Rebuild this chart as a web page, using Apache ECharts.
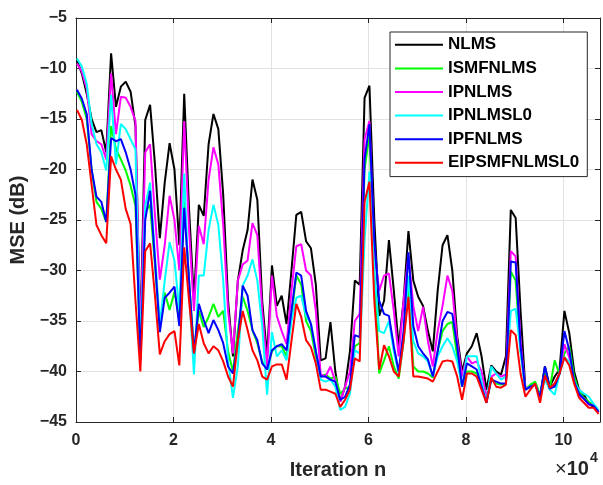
<!DOCTYPE html>
<html><head><meta charset="utf-8">
<script src="https://cdn.jsdelivr.net/npm/echarts@6/dist/echarts.min.js"></script>
<style>html,body{margin:0;padding:0;background:#fff}#c{width:603px;height:485px}</style>
</head><body><div id="c"></div>
<script>
// iteration positions (x 10^4)
const xs = [0.02,0.12,0.22,0.32,0.42,0.52,0.62,0.72,0.82,0.92,
1.02,1.12,1.22,1.32,1.42,1.52,1.62,1.72,1.82,1.92,
2.02,2.12,2.22,2.32,2.42,2.52,2.62,2.72,2.82,2.92,
3.02,3.12,3.22,3.32,3.42,3.52,3.62,3.72,3.82,3.92,
4.02,4.12,4.22,4.32,4.42,4.52,4.62,4.72,4.82,4.92,
5.02,5.12,5.22,5.32,5.42,5.52,5.62,5.72,5.82,5.92,
6.02,6.12,6.22,6.32,6.42,6.52,6.62,6.72,6.82,6.92,
7.02,7.12,7.22,7.32,7.42,7.52,7.62,7.72,7.82,7.92,
8.02,8.12,8.22,8.32,8.42,8.52,8.62,8.72,8.82,8.92,
9.02,9.12,9.22,9.32,9.42,9.52,9.62,9.72,9.82,9.92,
10.02,10.12,10.22,10.32,10.42,10.52,10.62,10.72];

const seriesNames = ['NLMS','ISMFNLMS','IPNLMS','IPNLMSL0','IPFNLMS','EIPSMFNLMSL0'];

const nlms = [-9.2,-10.5,-12.5,-15.0,-16.3,-16.1,-18.3,-8.5,-13.8,-11.8,
-11.3,-12.3,-15.7,-36.5,-15.1,-13.6,-19.5,-26.8,-21.3,-17.4,
-20.0,-27.5,-12.5,-24.0,-33.0,-23.5,-24.6,-17.5,-14.5,-16.0,
-22.5,-33.0,-38.5,-31.0,-28.0,-26.0,-21.0,-23.0,-33.0,-38.5,
-29.5,-33.5,-32.5,-35.3,-30.0,-24.5,-24.2,-27.1,-27.8,-31.4,
-38.9,-38.7,-35.1,-40.0,-43.0,-41.5,-38.0,-31.0,-31.4,-12.9,
-11.7,-25.0,-34.5,-33.0,-27.0,-32.0,-37.5,-33.0,-26.1,-31.0,
-32.6,-33.5,-36.0,-38.0,-32.0,-27.5,-26.5,-30.0,-36.5,-40.0,
-38.2,-37.5,-36.2,-38.5,-41.8,-39.4,-40.0,-40.3,-38.5,-24.0,
-24.8,-34.0,-41.8,-41.5,-41.2,-42.5,-39.5,-41.5,-40.5,-39.8,
-34.0,-36.2,-40.0,-41.8,-42.3,-43.2,-43.5,-44.0];

const ismfnlms = [-12.3,-13.3,-15.0,-20.0,-23.2,-23.9,-25.2,-15.7,-18.0,-19.0,
-20.1,-21.6,-23.6,-38.5,-24.2,-23.5,-29.5,-35.7,-32.2,-33.9,
-32.1,-35.0,-23.2,-31.0,-38.0,-34.0,-35.6,-34.6,-33.3,-34.6,
-34.0,-38.0,-40.0,-36.0,-32.6,-34.0,-35.9,-37.2,-39.0,-39.8,
-38.0,-37.5,-37.5,-38.5,-34.5,-30.5,-31.4,-35.0,-36.0,-38.5,
-40.5,-40.3,-40.7,-40.5,-42.2,-41.7,-41.5,-37.5,-37.2,-20.0,
-16.5,-30.0,-40.2,-38.9,-37.5,-39.5,-40.7,-37.0,-31.3,-39.5,
-40.0,-40.0,-40.2,-40.6,-38.0,-36.0,-35.3,-35.1,-38.5,-41.5,
-40.0,-40.0,-40.2,-41.5,-43.0,-40.8,-41.2,-41.3,-41.2,-30.1,
-31.0,-38.0,-41.8,-41.3,-41.0,-42.3,-40.0,-41.7,-38.9,-40.3,
-38.2,-37.5,-40.5,-42.0,-42.6,-43.0,-43.3,-44.0];

const ipnlms = [-9.5,-10.3,-12.0,-16.5,-17.2,-17.5,-19.0,-10.5,-16.5,-12.8,
-12.9,-13.8,-15.2,-37.0,-18.3,-17.5,-24.5,-30.9,-27.5,-22.6,
-25.0,-30.0,-15.2,-26.0,-34.0,-25.6,-27.4,-21.0,-17.8,-19.5,
-25.5,-34.0,-38.2,-31.0,-29.4,-29.0,-25.3,-26.5,-34.0,-39.5,
-30.5,-34.5,-36.0,-37.3,-32.0,-27.6,-27.4,-30.0,-30.5,-34.0,
-40.3,-40.5,-39.5,-41.0,-43.0,-41.5,-40.0,-35.0,-34.3,-17.0,
-15.2,-28.0,-32.0,-30.5,-30.3,-34.0,-38.5,-33.0,-28.5,-33.5,
-36.0,-33.6,-37.0,-39.5,-36.0,-33.5,-30.5,-32.0,-37.0,-40.5,
-38.5,-39.2,-39.0,-40.0,-42.5,-40.5,-40.2,-40.5,-40.3,-28.1,
-28.6,-37.0,-41.8,-41.5,-41.3,-42.5,-40.5,-41.8,-41.2,-40.2,
-37.3,-38.6,-41.0,-42.4,-42.7,-43.3,-43.3,-44.0];

const ipnlmsl0 = [-9.0,-9.8,-11.5,-15.5,-17.5,-18.3,-20.1,-12.6,-19.5,-15.5,
-16.0,-17.0,-18.0,-38.0,-23.6,-21.3,-28.5,-35.3,-31.0,-27.2,
-29.0,-34.0,-20.4,-32.0,-40.3,-30.5,-30.5,-26.0,-23.5,-25.5,
-31.0,-39.0,-42.6,-39.5,-31.5,-30.5,-28.9,-31.0,-35.5,-42.3,
-36.1,-38.5,-37.9,-38.9,-35.0,-32.7,-32.5,-34.5,-35.3,-37.9,
-40.8,-41.0,-40.8,-41.5,-43.8,-43.5,-42.2,-37.9,-38.2,-27.0,
-20.2,-30.0,-36.0,-36.2,-35.0,-38.0,-40.2,-37.0,-30.5,-37.0,
-38.2,-38.5,-39.0,-40.5,-38.5,-37.5,-36.7,-37.5,-39.0,-41.5,
-38.5,-38.5,-38.5,-41.0,-43.1,-39.5,-40.2,-40.8,-40.5,-34.0,
-33.8,-38.0,-41.8,-41.5,-41.3,-42.5,-40.8,-41.8,-42.3,-40.2,
-38.6,-39.0,-41.0,-41.8,-42.2,-42.5,-43.2,-43.8];

const ipfnlms = [-12.1,-13.0,-14.5,-20.0,-22.7,-23.2,-25.2,-16.9,-17.2,-17.0,
-18.3,-20.0,-22.5,-39.0,-25.0,-22.1,-29.0,-36.1,-32.7,-32.2,
-31.6,-35.5,-23.8,-31.0,-38.2,-33.3,-34.9,-36.2,-34.9,-35.9,
-37.2,-39.5,-40.2,-37.0,-31.5,-32.5,-35.9,-36.9,-39.2,-39.8,
-37.9,-37.5,-37.3,-37.9,-34.0,-30.2,-30.5,-34.0,-35.3,-38.0,
-40.5,-40.5,-40.8,-41.0,-42.8,-42.5,-41.3,-36.4,-36.6,-19.0,
-15.5,-27.0,-33.0,-34.3,-34.5,-37.5,-40.0,-36.0,-28.2,-35.5,
-37.5,-38.2,-38.8,-40.5,-38.0,-35.0,-34.1,-34.3,-37.5,-41.5,
-39.2,-39.5,-39.8,-41.5,-43.1,-40.8,-41.0,-41.2,-41.2,-29.1,
-29.2,-37.5,-41.8,-41.5,-41.3,-42.5,-39.5,-41.7,-41.5,-40.2,
-36.0,-37.9,-41.0,-42.2,-42.7,-43.2,-43.4,-44.0];

const eipsmfnlmsl0 = [-14.1,-15.1,-17.5,-21.5,-25.5,-26.5,-27.3,-18.7,-20.0,-21.0,
-23.9,-25.4,-33.0,-40.0,-28.1,-27.3,-32.5,-38.3,-37.0,-36.3,
-36.0,-39.4,-27.7,-33.0,-38.2,-35.3,-37.2,-38.2,-37.5,-37.9,
-39.0,-40.5,-41.5,-37.0,-34.0,-35.9,-37.9,-38.9,-40.5,-40.8,
-39.5,-39.3,-39.3,-40.8,-37.0,-33.3,-34.6,-36.9,-37.6,-39.2,
-41.8,-41.8,-42.0,-42.2,-43.5,-42.8,-41.8,-38.7,-39.0,-23.2,
-21.2,-33.0,-39.8,-37.4,-38.5,-40.0,-40.5,-37.0,-32.6,-40.5,
-40.5,-40.6,-40.7,-41.0,-40.0,-39.0,-38.9,-39.0,-40.5,-42.8,
-40.2,-40.2,-40.5,-41.8,-43.1,-40.6,-41.5,-41.6,-41.3,-35.9,
-36.4,-40.2,-42.5,-41.8,-41.2,-43.1,-40.4,-41.6,-41.2,-40.2,
-38.6,-39.4,-41.2,-42.6,-43.1,-43.6,-43.6,-44.2];

const xTickLabels = [0, 2, 4, 6, 8, 10];
const yTickLabels = [-45, -40, -35, -30, -25, -20, -15, -10, -5];

const allValues = [nlms, ismfnlms, ipnlms, ipnlmsl0, ipfnlms, eipsmfnlmsl0];
const colors = ['#000000', '#00ff00', '#ff00ff', '#00ffff', '#0000ff', '#ff0000'];
const FONT = "'Liberation Sans', Arial, sans-serif";
const AX = '#262626';

const chart = echarts.init(document.getElementById('c'), null, {renderer: 'canvas'});

const axisCommon = {
  type: 'value',
  axisLine: {show: true, onZero: false, lineStyle: {color: AX, width: 1}},
  axisTick: {show: true, inside: true, length: 5, lineStyle: {color: AX, width: 1}}
};

const option = {
  animation: false,
  backgroundColor: '#ffffff',
  grid: {left: 76, right: 2, top: 18, bottom: 60, containLabel: false},
  xAxis: [
    Object.assign({}, axisCommon, {
      position: 'bottom', min: 0, max: 10.75, interval: 2,
      axisLabel: {color: AX, fontSize: 16, fontWeight: 'bold', fontFamily: FONT, margin: 11,
        formatter: v => xTickLabels.includes(v) ? String(v) : ''},
      splitLine: {show: true, lineStyle: {color: '#e2e2e2', width: 1}},
      name: 'Iteration n', nameLocation: 'middle', nameGap: 38,
      nameTextStyle: {color: AX, fontSize: 20, fontWeight: 'bold', fontFamily: FONT}
    }),
    Object.assign({}, axisCommon, {
      position: 'top', min: 0, max: 10.75, interval: 2,
      axisLabel: {show: false}, splitLine: {show: false}
    })
  ],
  yAxis: [
    Object.assign({}, axisCommon, {
      position: 'left', min: -45, max: -5, interval: 5,
      axisLabel: {color: AX, fontSize: 16, fontWeight: 'bold', fontFamily: FONT, margin: 9,
        formatter: v => yTickLabels.includes(v) ? String(v).replace('-', '\u2212') : ''},
      splitLine: {show: true, lineStyle: {color: '#e2e2e2', width: 1}},
      name: 'MSE (dB)', nameLocation: 'middle', nameGap: 43,
      nameTextStyle: {color: AX, fontSize: 20, fontWeight: 'bold', fontFamily: FONT}
    }),
    Object.assign({}, axisCommon, {
      position: 'right', min: -45, max: -5, interval: 5,
      axisLabel: {show: false}, splitLine: {show: false}
    })
  ],
  legend: {
    data: seriesNames,
    orient: 'vertical',
    left: 390, top: 32,
    padding: [1, 8, 2, 5],
    itemGap: 0,
    itemWidth: 48, itemHeight: 2,
    itemTextGap: 3,
    icon: 'rect',
    backgroundColor: '#ffffff',
    borderColor: AX, borderWidth: 1, borderRadius: 0,
    textStyle: {color: '#000', fontSize: 17, fontWeight: 'bold', fontFamily: FONT, lineHeight: 23.6},
    selectedMode: false
  },
  graphic: [{
    type: 'text', left: 555, top: 451, silent: true,
    style: {
      text: '{x|×}{a|10}{b|4}',
      rich: {
        x: {fontSize: 20, fontFamily: FONT, fill: AX, verticalAlign: 'bottom', padding: [8, 0, 0, 0]},
        a: {fontSize: 20, fontWeight: 'bold', fontFamily: FONT, fill: AX, verticalAlign: 'bottom', padding: [8, 0, 0, 0]},
        b: {fontSize: 14, fontWeight: 'bold', fontFamily: FONT, fill: AX, verticalAlign: 'top', padding: [0, 0, 10, 1]}
      }
    }
  }],
  series: seriesNames.map((name, i) => ({
    name: name,
    type: 'line',
    xAxisIndex: 0, yAxisIndex: 0,
    showSymbol: false, symbol: 'none',
    color: colors[i],
    lineStyle: {color: colors[i], width: 2},
    emphasis: {disabled: true},
    data: xs.map((x, j) => [x, allValues[i][j]])
  }))
};
chart.setOption(option);
</script>
</body></html>
